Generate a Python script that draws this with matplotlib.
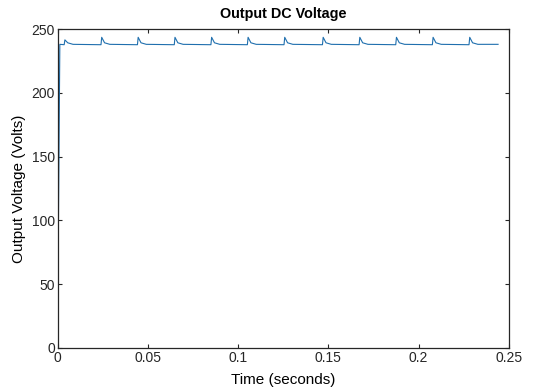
import numpy as np
import matplotlib
matplotlib.use("Agg")
import matplotlib.pyplot as plt

plt.rcParams['font.family'] = ['Liberation Sans', 'DejaVu Sans']

# values
start_v = 25.0          # line appears at about 25 V at t=0
settle_t = 0.0012       # time of the initial jump
peak_times = [0.0040, 0.0244, 0.0446, 0.0650, 0.0853, 0.1055,
              0.1258, 0.1471, 0.1674, 0.1877, 0.2080, 0.2283]
peak_v = [241.5, 243.5, 243.5, 243.5, 243.5, 243.5,
          243.5, 243.5, 243.5, 243.5, 243.5, 243.5]
floor_v = 238.0
decay = 0.0045          # time for each spike to fall back
end_t = 0.2440

# build the trace from the points above
t = [0.0, settle_t]
v = [start_v, floor_v]
for tp, vp in zip(peak_times, peak_v):
    t += [tp - 0.0004, tp, tp + decay * 0.35, tp + decay]
    v += [floor_v - 0.3, vp, floor_v + 1.2, floor_v]
t.append(end_t)
v.append(floor_v)

fig = plt.figure(figsize=(5.34, 3.89), dpi=100)
ax = fig.add_axes([0.108, 0.1054, 0.845, 0.82])
ax.plot(t, v, color='#1f6fae', lw=0.8)

ax.set_xlim(0, 0.25)
ax.set_ylim(0, 250)
ax.set_xticks([0, 0.05, 0.1, 0.15, 0.2, 0.25])
ax.set_xticklabels(['0', '0.05', '0.1', '0.15', '0.2', '0.25'])
ax.set_yticks([0, 50, 100, 150, 200, 250])
ax.tick_params(direction='in', top=True, right=True, length=3,
               labelsize=10, colors='#262626', width=0.8, pad=2)
for s in ax.spines.values():
    s.set_color('#262626')
    s.set_linewidth(0.9)

ax.set_title('Output DC Voltage', fontsize=10.4, fontweight='bold', pad=8)
ax.set_xlabel('Time (seconds)', fontsize=11, labelpad=6)
ax.set_ylabel('Output Voltage (Volts)', fontsize=11, labelpad=4)

fig.savefig('out.png', dpi=100)
